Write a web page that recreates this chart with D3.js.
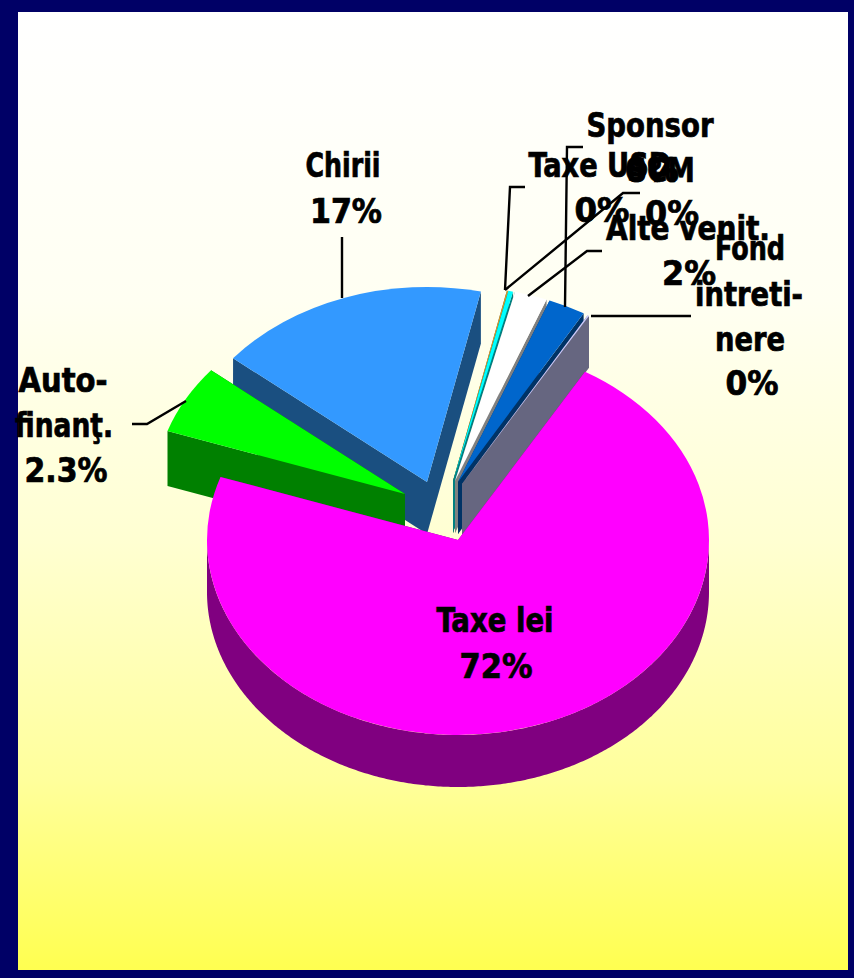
<!DOCTYPE html>
<html>
<head>
<meta charset="utf-8">
<script src="https://cdn.jsdelivr.net/npm/d3@7"></script>
<style>
  html, body { margin: 0; padding: 0; background: #000066; }
  svg { display: block; }
  text { font-family: "DejaVu Sans", sans-serif; font-weight: bold; font-stretch: condensed; fill: #000; stroke: #000; stroke-width: 0.7; }
</style>
</head>
<body>
<div id="vis"></div>
<script>
// data, slices (the printed labels do not always agree with the drawn shares)
const categories = ["Taxe lei", "Auto-finant", "Chirii", "Taxe USD", "SCM", "Alte venit", "Sponsor", "Fond intretinere"];
const shares = [71.8, 5.7, 17.5, 0.1, 0.3, 2.1, 2.4, 0.1];
const labelLines = [
  ["Taxe lei", "72%"],
  ["Auto-", "finanţ.", "2.3%"],
  ["Chirii", "17%"],
  ["Taxe USD", "0%"],
  ["SCM", "0%"],
  ["Alte venit.", "2%"],
  ["Sponsor", "0%"],
  ["Fond", "intreti-", "nere", "0%"]
];

// colours per slice: top face, wall
const topColors = ["#ff00ff", "#00ff00", "#3399ff", "#cc9933", "#00ffff", "#ffffff", "#0066cc", "#ccccff"];
const wallColors = ["#800080", "#008000", "#1a4f80", "#806020", "#008080", "#808080", "#003366", "#666680"];

// layout
const FRAME_WIDTH = 854;
const FRAME_HEIGHT = 978;
const CX = 458, CY = 540, RX = 251, RY = 195;
const START_DEG = 30.4;
// how far each slice is pulled out of the pie, and how thick it looks, by category index
const EXPLODE = [[0, 0], [-53, -46], [-31, -58], [-5, -59], [-5, -59], [-3, -59], [0, -58], [4, -56]];
const DEPTHS = [52, 55, 52, 52, 52, 52, 52, 52];
// bottom to top painting order
const PAINT_ORDER = [2, 1, 3, 4, 5, 6, 7, 0];

// per text line: centre x, baseline y, width
const LINE_BOXES = [
  [[495, 632, 117], [496, 678, 73]],
  [[63, 392, 89], [64, 437, 98], [66, 482, 83]],
  [[343, 177, 75], [346, 223, 72]],
  [[600, 177, 143], [602, 222, 55]],
  [[661, 182, 68], [672, 225, 54]],
  [[688, 240, 164], [689, 285, 54]],
  [[650, 137, 127], [652, 182, 54]],
  [[750, 260, 70], [749, 306, 108], [750, 351, 70], [752, 395, 53]]
];
const FONT_SIZE = 33;

const LEADERS = [
  [[186, 401], [147, 424], [132, 424]],
  [[342, 298], [342, 237]],
  [[505, 290], [510, 187], [525, 187]],
  [[505, 290], [623, 193], [640, 193]],
  [[528, 296], [587, 251], [602, 251]],
  [[565, 307], [567, 147], [583, 147]],
  [[591, 316], [691, 316]]
];

const FRAME = d3.select("#vis")
  .append("svg")
    .attr("width", FRAME_WIDTH)
    .attr("height", FRAME_HEIGHT);

// background panel
const grad = FRAME.append("defs").append("linearGradient")
    .attr("id", "bg")
    .attr("x1", 0).attr("y1", 0).attr("x2", 0).attr("y2", 1);
[[0, "#ffffff"], [0.3, "#fffff2"], [0.55, "#ffffd2"], [0.8, "#ffff9c"], [1, "#ffff50"]].forEach(s => {
  grad.append("stop").attr("offset", s[0]).attr("stop-color", s[1]);
});
FRAME.append("rect")
    .attr("x", 18).attr("y", 12)
    .attr("width", 830).attr("height", 958)
    .attr("fill", "url(#bg)");

const pie = d3.pie()
    .sort(null)
    .startAngle(START_DEG * Math.PI / 180)
    .endAngle(START_DEG * Math.PI / 180 + 2 * Math.PI);
const slices = pie(shares);

const arc = d3.arc().innerRadius(0).outerRadius(RX);
const px = a => RX * Math.sin(a);
const py = a => -RY * Math.cos(a);

PAINT_ORDER.forEach(i => {
  const s = slices[i];
  const depth = DEPTHS[i];
  const g = FRAME.append("g")
      .attr("transform", "translate(" + (CX + EXPLODE[i][0]) + "," + (CY + EXPLODE[i][1]) + ")");

  // radial walls
  [s.startAngle, s.endAngle].forEach(a => {
    g.append("path")
        .attr("d", d3.line()([[0, 0], [px(a), py(a)], [px(a), py(a) + depth], [0, depth]]) + "Z")
        .attr("fill", wallColors[i]);
  });

  // outer wall, only the part facing the viewer
  const lo = Math.max(s.startAngle, Math.PI / 2);
  const hi = Math.min(s.endAngle, 3 * Math.PI / 2);
  if (hi > lo) {
    const wallArea = d3.area()
        .x(a => px(a))
        .y0(a => py(a))
        .y1(a => py(a) + depth);
    g.append("path")
        .attr("d", wallArea(d3.range(lo, hi, 0.01).concat(hi)))
        .attr("fill", wallColors[i]);
  }

  // top face
  g.append("path")
      .attr("transform", "scale(1," + (RY / RX) + ")")
      .attr("d", arc(s))
      .attr("fill", topColors[i]);
});

// leader lines
FRAME.selectAll(".leader")
  .data(LEADERS)
  .enter()
  .append("path")
    .attr("class", "leader")
    .attr("d", d => d3.line()(d))
    .attr("fill", "none")
    .attr("stroke", "#000")
    .attr("stroke-width", 2.4);

// labels
labelLines.forEach((lines, i) => {
  lines.forEach((line, j) => {
    const box = LINE_BOXES[i][j];
    FRAME.append("text")
        .attr("x", box[0])
        .attr("y", box[1])
        .attr("text-anchor", "middle")
        .attr("font-size", FONT_SIZE)
        .attr("textLength", box[2])
        .attr("lengthAdjust", "spacingAndGlyphs")
        .text(line);
  });
});
</script>
</body>
</html>
